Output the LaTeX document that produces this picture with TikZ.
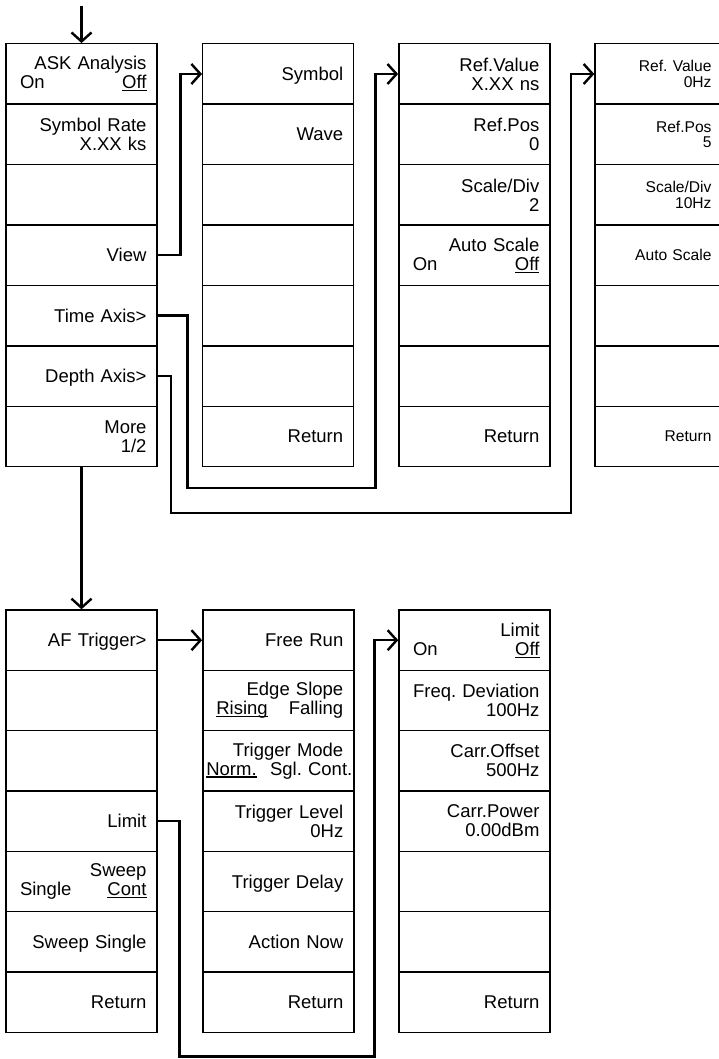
\documentclass[tikz,border=0pt]{standalone}
\usepackage{fontspec}
\setmainfont{Liberation Sans}
\usetikzlibrary{arrows.meta}
\frenchspacing
\newcommand\myul[1]{\setbox0\hbox{#1}\leavevmode\rlap{\rule[-2.6pt]{\wd0}{1.2pt}}\box0}
\newcommand\fsA{\fontsize{18.5pt}{19pt}\selectfont\frenchspacing}
\newcommand\fsB{\fontsize{15.6pt}{15.7pt}\selectfont\frenchspacing}
\begin{document}
\begin{tikzpicture}[x=1pt,y=-1pt,
 cell/.style={draw, line width=1.4pt, minimum width=151pt, minimum height=60.4pt, inner sep=0pt, text width=130pt, align=right, font=\fsA},
 oneline/.style={text depth=0pt},
 narrowcol/.style={minimum width=127pt, text width=106pt, font=\fsB},
 conn/.style={line width=2.4pt, line join=miter},
 arr/.style={conn,-{Straight Barb[length=9pt,width=20pt]}}]
\useasboundingbox (0,0) rectangle (719,1059);
\clip (0,0) rectangle (719,1059);
% top column 1
\node[cell] (a1) at (81.5,74) {ASK Analysis\\\hspace*{3.5pt}On\hfill\myul{Off}};
\node[cell] (a2) at (81.5,134.4) {Symbol Rate\\X.XX ks};
\node[cell] (a3) at (81.5,194.8) {};
\node[cell,oneline] (a4) at (81.5,255.2) {View};
\node[cell,oneline] (a5) at (81.5,315.6) {Time Axis>};
\node[cell,oneline] (a6) at (81.5,376) {Depth Axis>};
\node[cell] (a7) at (81.5,436.4) {More\\1/2};
% top column 2
\node[cell,oneline] (b1) at (278.2,74) {Symbol};
\node[cell,oneline] (b2) at (278.2,134.4) {Wave};
\node[cell] (b3) at (278.2,194.8) {};
\node[cell] (b4) at (278.2,255.2) {};
\node[cell] (b5) at (278.2,315.6) {};
\node[cell] (b6) at (278.2,376) {};
\node[cell,oneline] (b7) at (278.2,436.4) {Return};
% top column 3
\node[cell] (c1) at (474.3,74) {Ref.Value\\X.XX ns};
\node[cell] (c2) at (474.3,134.4) {Ref.Pos\\0};
\node[cell] (c3) at (474.3,194.8) {Scale/Div\\2};
\node[cell] (c4) at (474.3,255.2) {Auto Scale\\\hspace*{3.5pt}On\hfill\myul{Off}};
\node[cell] (c5) at (474.3,315.6) {};
\node[cell] (c6) at (474.3,376) {};
\node[cell,oneline] (c7) at (474.3,436.4) {Return};
% top column 4
\node[cell,narrowcol] (d1) at (658.5,74) {Ref. Value\\0Hz};
\node[cell,narrowcol] (d2) at (658.5,134.4) {Ref.Pos\\5};
\node[cell,narrowcol] (d3) at (658.5,194.8) {Scale/Div\\10Hz};
\node[cell,narrowcol,oneline] (d4) at (658.5,255.2) {Auto Scale};
\node[cell,narrowcol] (d5) at (658.5,315.6) {};
\node[cell,narrowcol] (d6) at (658.5,376) {};
\node[cell,narrowcol,oneline] (d7) at (658.5,436.4) {Return};
% bottom column 1
\node[cell,oneline] (e1) at (81.5,640.2) {AF Trigger>};
\node[cell] (e2) at (81.5,700.5) {};
\node[cell] (e3) at (81.5,760.8) {};
\node[cell,oneline] (e4) at (81.5,821.1) {Limit};
\node[cell] (e5) at (81.5,881.4) {Sweep\\\hspace*{3.5pt}Single\hfill\myul{Cont}};
\node[cell,oneline] (e6) at (81.5,941.7) {Sweep Single};
\node[cell,oneline] (e7) at (81.5,1002) {Return};
% bottom column 2
\node[cell,oneline] (f1) at (278.3,640.2) {Free Run};
\node[cell] (f2) at (278.3,700.5) {Edge Slope\\\hspace*{3pt}\myul{Rising}\hfill Falling};
\node[cell] (f3) at (278.3,760.8) {Trigger Mode\\\hspace*{-7pt}\myul{Norm.}\hfill Sgl.\ Cont.\kern-9pt};
\node[cell] (f4) at (278.3,821.1) {Trigger Level\\0Hz};
\node[cell,oneline] (f5) at (278.3,881.4) {Trigger Delay};
\node[cell,oneline] (f6) at (278.3,941.7) {Action Now};
\node[cell,oneline] (f7) at (278.3,1002) {Return};
% bottom column 3
\node[cell] (g1) at (474.5,640.2) {Limit\\\hspace*{3.5pt}On\hfill\myul{Off}};
\node[cell] (g2) at (474.5,700.5) {Freq. Deviation\\100Hz};
\node[cell] (g3) at (474.5,760.8) {Carr.Offset\\500Hz};
\node[cell] (g4) at (474.5,821.1) {Carr.Power\\0.00dBm};
\node[cell] (g5) at (474.5,881.4) {};
\node[cell] (g6) at (474.5,941.7) {};
\node[cell,oneline] (g7) at (474.5,1002) {Return};
% bend points
\coordinate (in) at (81.5,6);
\coordinate (v1) at (180.5,74);
\coordinate (t1) at (187.3,488);
\coordinate (t2) at (375.5,488);
\coordinate (p1) at (170.7,512.7);
\coordinate (p2) at (570.7,512.7);
\coordinate (l1) at (179.3,1056.3);
\coordinate (l2) at (374.5,1056.3);
% connectors
\draw[arr] (in) -- (a1.north);
\draw[arr] (a4.east) -| (v1) -- (b1.west);
\draw[arr] (a5.east) -| (t1) -- (t2) |- (c1.west);
\draw[arr] (a6.east) -| (p1) -- (p2) |- (d1.west);
\draw[arr] (a7.south) -- (e1.north);
\draw[arr] (e1.east) -- (f1.west);
\draw[arr] (e4.east) -| (l1) -- (l2) |- (g1.west);
\end{tikzpicture}
\end{document}
